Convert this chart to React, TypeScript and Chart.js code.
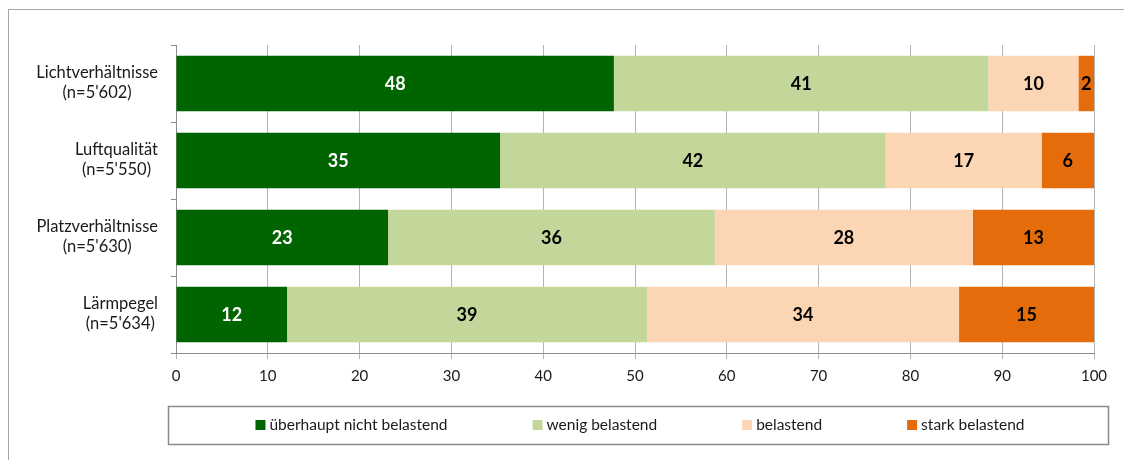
import React, { useEffect, useRef } from 'react';
import { Chart, registerables } from 'chart.js';
Chart.register(...registerables);

const categories: string[][] = [
  ['Lichtverhältnisse', "(n=5'602)"],
  ['Luftqualität', "(n=5'550)"],
  ['Platzverhältnisse', "(n=5'630)"],
  ['Lärmpegel', "(n=5'634)"],
];
const seriesLabels = ['überhaupt nicht belastend', 'wenig belastend', 'belastend', 'stark belastend'];
const notBurdening = [47.7, 35.3, 23.1, 12.1];
const littleBurdening = [40.8, 42.0, 35.6, 39.2];
const burdening = [9.8, 17.0, 28.1, 34.0];
const stronglyBurdening = [1.7, 5.7, 13.2, 14.7];
const seriesValues = [notBurdening, littleBurdening, burdening, stronglyBurdening];
const seriesColors = ['#006400', '#c4d79b', '#fcd5b4', '#e46c0a'];
const valueLabelColors = ['#ffffff', '#000000', '#000000', '#000000'];
const xMin = 0;
const xMax = 100;
const xStep = 10;

const FONT = 'Lato, "Open Sans", sans-serif';

const valueLabelPlugin = {
  id: 'valueLabels',
  afterDatasetsDraw(chart: any) {
    const ctx = chart.ctx;
    ctx.save();
    ctx.font = `bold 18px ${FONT}`;
    ctx.textAlign = 'center';
    ctx.textBaseline = 'middle';
    chart.data.datasets.forEach((ds: any, di: number) => {
      const meta = chart.getDatasetMeta(di);
      meta.data.forEach((bar: any, i: number) => {
        const { x, base, y } = bar.getProps(['x', 'base', 'y'], true);
        ctx.fillStyle = valueLabelColors[di];
        ctx.fillText(String(Math.round(ds.data[i])), (x + base) / 2, y + 1);
      });
    });
    ctx.restore();
  },
};

const yLabelPlugin = {
  id: 'yLabels',
  afterDraw(chart: any) {
    const ctx = chart.ctx;
    const yScale = chart.scales.y;
    ctx.save();
    ctx.font = `16.5px ${FONT}`;
    ctx.fillStyle = '#1a1a1a';
    ctx.textAlign = 'center';
    ctx.textBaseline = 'middle';
    categories.forEach((lines, i) => {
      const cy = yScale.getPixelForValue(i);
      const w = Math.max(...lines.map((l) => ctx.measureText(l).width));
      const cx = yScale.right - 18 - w / 2;
      lines.forEach((l, k) => {
        ctx.fillText(l, cx, cy - 1 + (k - (lines.length - 1) / 2) * 20);
      });
    });
    ctx.restore();
  },
};

const legendPlugin = {
  id: 'boxLegend',
  afterDraw(chart: any) {
    const ctx = chart.ctx;
    const area = chart.chartArea;
    const left = area.left - 8;
    const right = area.right + 14;
    const top = area.bottom + 53;
    const height = 38;
    ctx.save();
    ctx.strokeStyle = '#8a8a8a';
    ctx.lineWidth = 1.5;
    ctx.strokeRect(left + 0.5, top + 0.5, right - left, height);
    ctx.font = `15.5px ${FONT}`;
    ctx.textBaseline = 'middle';
    ctx.textAlign = 'left';
    const box = 10;
    const gapText = 4;
    const gapItem = 85;
    const widths = seriesLabels.map((l) => box + gapText + ctx.measureText(l).width);
    const total = widths.reduce((a, b) => a + b, 0) + gapItem * (seriesLabels.length - 1);
    let x = (left + right) / 2 - total / 2 + 2;
    const cy = top + height / 2;
    seriesLabels.forEach((l, i) => {
      ctx.fillStyle = seriesColors[i];
      ctx.fillRect(x, cy - box / 2, box, box);
      ctx.fillStyle = '#1a1a1a';
      ctx.fillText(l, x + box + gapText, cy);
      x += widths[i] + gapItem;
    });
    ctx.restore();
  },
};

export default function App() {
  const ref = useRef<HTMLCanvasElement>(null);
  useEffect(() => {
    if (!ref.current) return;
    const chart = new Chart(ref.current, {
      type: 'bar',
      data: {
        labels: categories.map((c) => c.join(' ')),
        datasets: seriesLabels.map((label, i) => ({
          label,
          data: seriesValues[i],
          backgroundColor: seriesColors[i],
          borderWidth: 0,
          barPercentage: 0.72,
          categoryPercentage: 1,
        })),
      },
      options: {
        indexAxis: 'y',
        responsive: false,
        animation: false,
        layout: { padding: { top: 35, right: 30, left: 0, bottom: 0 } },
        plugins: {
          legend: { display: false },
          tooltip: { enabled: false },
        },
        scales: {
          x: {
            stacked: true,
            min: xMin,
            max: xMax,
            ticks: {
              stepSize: xStep,
              color: '#1a1a1a',
              font: { family: FONT, size: 15 },
              padding: 8,
              maxRotation: 0,
            },
            grid: {
              color: '#b4b4b4',
              drawOnChartArea: true,
              drawTicks: true,
              tickLength: 6,
            },
            border: { display: true, color: '#8c8c8c' },
            afterFit: (scale: any) => {
              scale.height = 107;
            },
          },
          y: {
            stacked: true,
            ticks: { display: false },
            grid: {
              drawOnChartArea: false,
              drawTicks: true,
              tickLength: 5,
              color: '#8c8c8c',
              offset: true,
            },
            border: { display: true, color: '#8c8c8c' },
            afterFit: (scale: any) => {
              scale.width = 167;
            },
          },
        },
      },
      plugins: [valueLabelPlugin, yLabelPlugin, legendPlugin],
    });
    return () => chart.destroy();
  }, []);
  return (
    <div style={{ paddingTop: 1 }}>
      <div style={{ borderLeft: '1px solid #a6a6a6', borderTop: '1px solid #a6a6a6', width: 1115, height: 450 }}>
        <canvas ref={ref} width={1115} height={450} style={{ display: 'block' }} />
      </div>
    </div>
  );
}
